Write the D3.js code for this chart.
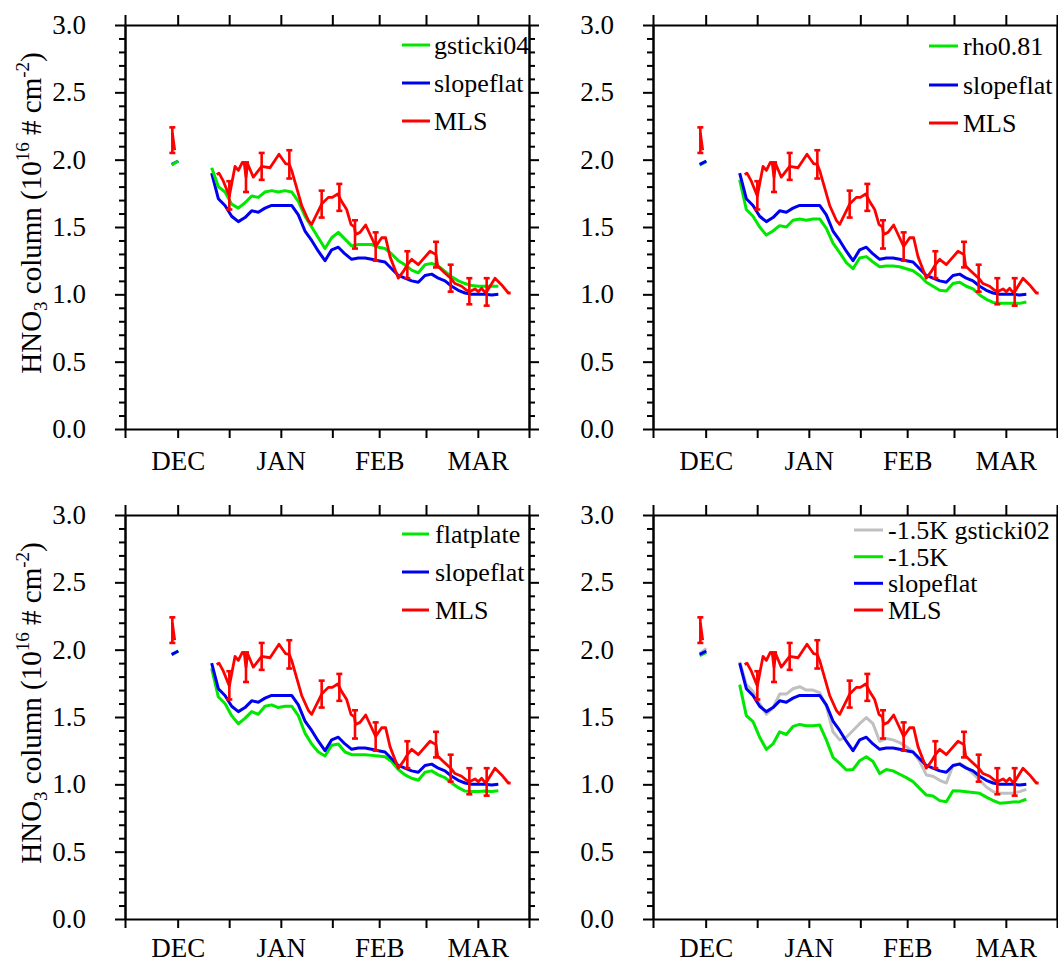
<!DOCTYPE html>
<html><head><meta charset="utf-8">
<script src="https://cdn.jsdelivr.net/npm/d3@7"></script>
<style>
body{margin:0;background:#fff;}
svg{display:block;}
svg text{font-family:"Liberation Serif","Times New Roman",serif;}
</style>
</head><body>
<svg id="chart" width="1058" height="964"></svg>
<script>
// ---------- DATA ----------
const xDomain = [0, 121.2];               // day index
const xTickDays = [0, 15.8, 31.25, 46.75, 62.2, 76.25, 90.3, 105.85, 121.2];
const monthLabels = ["DEC", "JAN", "FEB", "MAR"];
const monthLabelDays = [15.8, 46.75, 76.25, 105.85];
const yMajorTicks = [0, 0.5, 1.0, 1.5, 2.0, 2.5, 3.0];
const yMinorTicks = [0.1,0.2,0.3,0.4,0.6,0.7,0.8,0.9,1.1,1.2,1.3,1.4,1.6,1.7,1.8,1.9,2.1,2.2,2.3,2.4,2.6,2.7,2.8,2.9];

const modelDays = [14,16,18,20,22,24,26,28,30,32,34,36,38,40,42,44,46,48,50,52,54,56,58,60,62,64,66,68,70,72,74,76,78,80,82,84,86,88,90,92,94,96,98,100,102,104,106,108,110,112];

const slopeflat = [1.965,1.99,null,null,null,null,1.90,1.71,1.66,1.58,1.54,1.57,1.62,1.61,1.64,1.66,1.66,1.66,1.66,1.59,1.47,1.40,1.32,1.25,1.33,1.35,1.30,1.26,1.27,1.27,1.26,1.25,1.24,1.19,1.14,1.12,1.10,1.09,1.14,1.15,1.12,1.10,1.06,1.03,1.01,1.00,1.00,1.00,0.995,1.00];

const gsticki04 = [1.96,1.99,null,null,null,null,1.94,1.80,1.76,1.67,1.64,1.68,1.73,1.72,1.76,1.77,1.76,1.77,1.76,1.69,1.58,1.50,1.42,1.34,1.42,1.46,1.41,1.36,1.37,1.37,1.37,1.35,1.34,1.30,1.25,1.22,1.18,1.16,1.22,1.23,1.21,1.17,1.13,1.10,1.08,1.065,1.06,1.06,1.06,1.06];

const rho081 = [1.96,1.985,null,null,null,null,1.85,1.63,1.58,1.50,1.44,1.47,1.51,1.50,1.55,1.56,1.55,1.56,1.56,1.49,1.38,1.31,1.235,1.19,1.27,1.28,1.24,1.205,1.21,1.21,1.205,1.19,1.175,1.14,1.09,1.06,1.03,1.025,1.08,1.09,1.06,1.04,0.995,0.963,0.94,0.933,0.933,0.933,0.933,0.943];

const flatplate = [1.96,1.99,null,null,null,null,1.86,1.65,1.60,1.51,1.45,1.49,1.54,1.52,1.58,1.59,1.57,1.58,1.58,1.51,1.38,1.30,1.24,1.21,1.29,1.30,1.24,1.22,1.22,1.22,1.215,1.21,1.205,1.17,1.11,1.07,1.045,1.03,1.09,1.10,1.07,1.05,1.01,0.975,0.95,0.946,0.946,0.95,0.946,0.953];

const minus15K = [1.955,1.98,null,null,null,null,1.74,1.51,1.465,1.35,1.26,1.30,1.39,1.37,1.43,1.445,1.435,1.435,1.44,1.33,1.20,1.156,1.106,1.11,1.175,1.205,1.17,1.08,1.11,1.10,1.075,1.05,1.02,0.97,0.92,0.913,0.879,0.87,0.953,0.95,0.945,0.94,0.933,0.905,0.88,0.86,0.864,0.868,0.871,0.889];

const minus15KGsticki02 = [1.97,2.01,null,null,null,null,1.91,1.74,1.69,1.60,1.52,1.57,1.67,1.67,1.71,1.725,1.70,1.70,1.68,1.58,1.39,1.33,1.35,1.40,1.45,1.495,1.45,1.32,1.34,1.33,1.31,1.28,1.24,1.17,1.07,1.06,1.03,1.01,1.14,1.156,1.126,1.08,1.03,0.98,0.946,0.933,0.933,0.935,0.946,0.963];

const mlsDays = [14.2,14.9,20,27.5,28.2,29.5,31.3,33.0,34.0,35.2,35.8,36.3,36.8,38.5,41.0,43.5,46.2,48.2,49.3,50.0,53.0,55.0,56.0,59.0,61.0,62.2,63.8,65.0,66.5,67.8,68.8,69.2,70.5,72.2,75.2,77.0,78.2,79.5,82.0,83.5,84.7,86.0,88.0,91.5,93.3,93.8,95.5,97.7,99.0,101.0,102.5,103.3,105.0,106.0,107.0,107.8,108.5,111.0,113.0,115.0,115.7];
const mlsValues = [2.20,2.07,null,1.89,1.90,1.84,1.73,1.95,1.92,1.98,1.97,1.87,1.97,1.87,1.95,1.94,2.04,1.97,1.965,1.92,1.66,1.55,1.52,1.67,1.72,1.72,1.745,1.69,1.63,1.52,1.50,1.445,1.46,1.515,1.355,1.42,1.42,1.28,1.12,1.17,1.22,1.26,1.22,1.32,1.295,1.21,1.17,1.12,1.08,1.06,1.03,1.02,1.04,1.02,1.045,1.02,1.02,1.12,1.07,1.01,1.01];

const errDays = [14.2,31.3,36.3,41.0,49.3,59.0,64.3,69.0,75.2,84.7,93.3,97.7,103.3,108.5];
const errLo   = [2.05,1.63,1.76,1.85,1.86,1.57,1.62,1.34,1.25,1.12,1.20,1.02,0.926,0.916];
const errHi   = [2.24,1.84,1.98,2.05,2.07,1.77,1.82,1.55,1.46,1.32,1.39,1.22,1.12,1.12];

// ---------- STYLE / LAYOUT ----------
const GREEN = "#00e800", BLUE = "#0000f0", RED = "#ff0000", GRAY = "#c0c0c0";
const FONT = "'Liberation Serif','Times New Roman',serif";
const W = 404, H = 404;

const panels = [
  {left:125, top:25,  ytitle:true, labelPad:22,
   series:[{name:"slopeflat", vals:slopeflat, color:BLUE, legendIdx:1}, {name:"gsticki04", vals:gsticki04, color:GREEN, legendIdx:0}],
   legend:{x0:277, x1:305, tx:309, rows:[20,58,96]}},
  {left:653, top:25,  ytitle:false, labelPad:22,
   series:[{name:"rho0.81", vals:rho081, color:GREEN, legendIdx:0}, {name:"slopeflat", vals:slopeflat, color:BLUE, legendIdx:1}],
   legend:{x0:276, x1:305, tx:310, rows:[21,60,98]}},
  {left:125, top:515, ytitle:true, labelPad:19,
   series:[{name:"flatplate", vals:flatplate, color:GREEN, legendIdx:0}, {name:"slopeflat", vals:slopeflat, color:BLUE, legendIdx:1}],
   legend:{x0:277, x1:304, tx:310, rows:[19,57,95]}},
  {left:653, top:515, ytitle:false, labelPad:19,
   series:[{name:"-1.5K gsticki02", vals:minus15KGsticki02, color:GRAY, legendIdx:0},
           {name:"-1.5K", vals:minus15K, color:GREEN, legendIdx:1},
           {name:"slopeflat", vals:slopeflat, color:BLUE, legendIdx:2}],
   legend:{x0:201, x1:230, tx:235, rows:[15,41.7,68.3,95]}}
];

const svg = d3.select("#chart");

panels.forEach(p => {
  const g = svg.append("g").attr("transform", `translate(${p.left},${p.top})`);
  const x = d3.scaleLinear().domain(xDomain).range([0, W]);
  const y = d3.scaleLinear().domain([0, 3]).range([H, 0]);

  const styleAxis = sel => {
    sel.attr("font-family", FONT).attr("font-size", 27);
    sel.selectAll("path.domain").attr("stroke", "#000").attr("stroke-width", 2);
    sel.selectAll(".tick line").attr("stroke", "#000").attr("stroke-width", 2);
    sel.selectAll(".tick text").attr("fill", "#000").attr("font-family", FONT);
  };

  // y axes
  g.append("g").call(d3.axisLeft(y).tickValues(yMinorTicks).tickSize(6).tickSizeOuter(0).tickFormat(""))
    .call(styleAxis);
  g.append("g").call(d3.axisLeft(y).tickValues(yMajorTicks).tickSize(10).tickSizeOuter(0)
      .tickPadding(29).tickFormat(d3.format(".1f")))
    .call(styleAxis);
  g.append("g").attr("transform", `translate(${W},0)`)
    .call(d3.axisRight(y).tickValues(yMinorTicks).tickSize(6).tickSizeOuter(0).tickFormat("")).call(styleAxis);
  g.append("g").attr("transform", `translate(${W},0)`)
    .call(d3.axisRight(y).tickValues(yMajorTicks).tickSize(10).tickSizeOuter(0).tickFormat("")).call(styleAxis);

  // x axes
  g.append("g").attr("transform", `translate(0,${H})`)
    .call(d3.axisBottom(x).tickValues(xTickDays).tickSize(9).tickSizeOuter(0).tickFormat("")).call(styleAxis);
  g.append("g").attr("transform", `translate(0,${H})`)
    .call(d3.axisBottom(x).tickValues(monthLabelDays).tickSize(0).tickSizeOuter(0).tickPadding(p.labelPad)
      .tickFormat((d, i) => monthLabels[i]))
    .call(styleAxis)
    .call(s => s.select("path.domain").remove());
  g.append("g")
    .call(d3.axisTop(x).tickValues(xTickDays).tickSize(10).tickSizeOuter(0).tickFormat("")).call(styleAxis);

  // y title
  if (p.ytitle) {
    const t = g.append("text")
      .attr("transform", `translate(-84,${H/2 - 14}) rotate(-90)`)
      .attr("text-anchor", "middle").attr("font-size", 29).attr("fill", "#000").attr("font-family", FONT);
    t.append("tspan").text("HNO");
    t.append("tspan").attr("font-size", 19).attr("dy", 6).text("3");
    t.append("tspan").attr("dy", -6).text(" column (10");
    t.append("tspan").attr("font-size", 19).attr("dy", -12).text("16");
    t.append("tspan").attr("dy", 12).text(" # cm");
    t.append("tspan").attr("font-size", 19).attr("dy", -12).text("-2");
    t.append("tspan").attr("dy", 12).text(")");
  }

  const line = d3.line().defined(d => d[1] != null).x(d => x(d[0])).y(d => y(d[1]));

  // model series
  p.series.forEach(s => {
    g.append("path").datum(modelDays.map((d, i) => [d, s.vals[i]]))
      .attr("d", line).attr("fill", "none").attr("stroke", s.color)
      .attr("stroke-width", 3).attr("stroke-linejoin", "round");
  });

  // MLS
  g.append("path").datum(mlsDays.map((d, i) => [d, mlsValues[i]]))
    .attr("d", line).attr("fill", "none").attr("stroke", RED)
    .attr("stroke-width", 2.8).attr("stroke-linejoin", "round");

  const eb = g.append("g").attr("stroke", RED).attr("stroke-width", 2.6);
  errDays.forEach((d, i) => {
    eb.append("line").attr("x1", x(d)).attr("x2", x(d)).attr("y1", y(errLo[i])).attr("y2", y(errHi[i]));
    eb.append("line").attr("x1", x(d) - 3).attr("x2", x(d) + 3).attr("y1", y(errLo[i])).attr("y2", y(errLo[i]));
    eb.append("line").attr("x1", x(d) - 3).attr("x2", x(d) + 3).attr("y1", y(errHi[i])).attr("y2", y(errHi[i]));
  });

  // legend
  const items = p.series.slice().sort((a, b) => a.legendIdx - b.legendIdx)
    .map(s => ({name: s.name, color: s.color})).concat([{name: "MLS", color: RED}]);
  items.forEach((it, i) => {
    const yy = p.legend.rows[i];
    g.append("line").attr("x1", p.legend.x0).attr("x2", p.legend.x1).attr("y1", yy).attr("y2", yy)
      .attr("stroke", it.color).attr("stroke-width", 3);
    g.append("text").attr("x", p.legend.tx).attr("y", yy + 9).attr("font-size", 26)
      .attr("font-family", FONT).attr("fill", "#000").text(it.name);
  });
});
</script>
</body></html>
